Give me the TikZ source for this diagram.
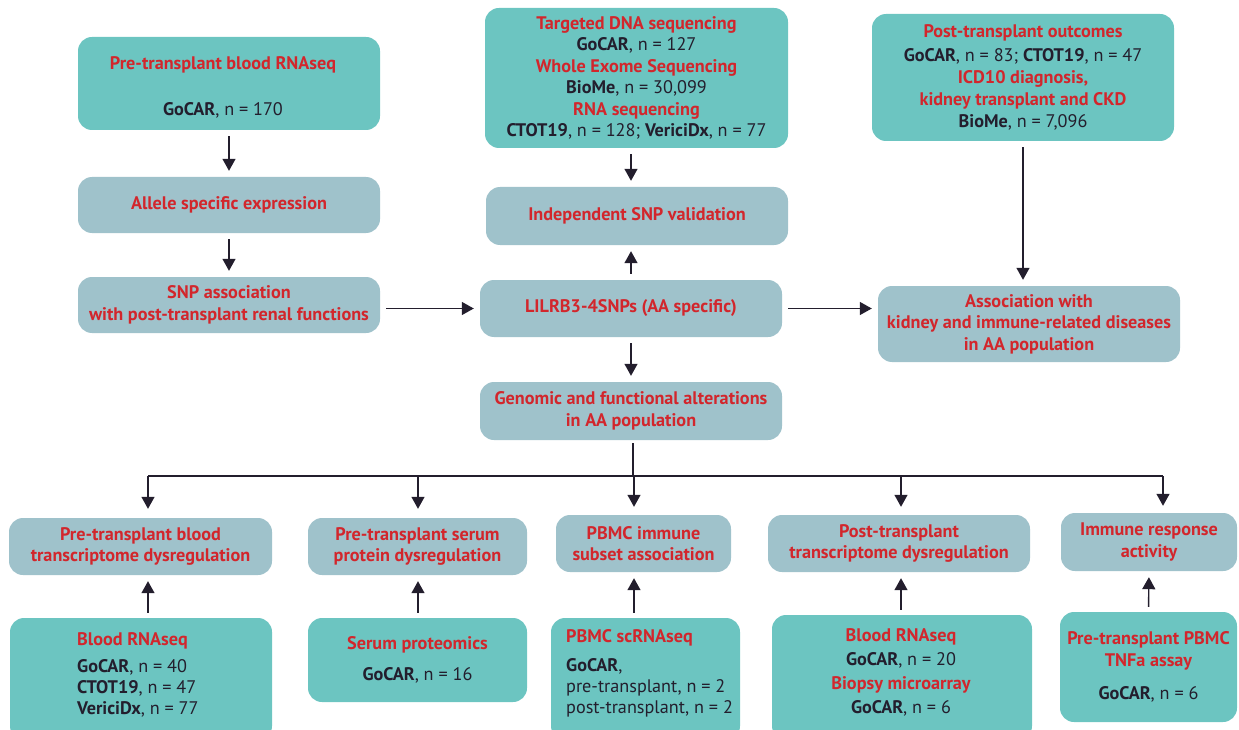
\documentclass[tikz,border=0pt]{standalone}
\usepackage{fontspec}
\setmainfont{PT Sans}
\usetikzlibrary{arrows.meta,calc}
\definecolor{tealbg}{RGB}{108,197,193}
\definecolor{greybg}{RGB}{159,194,203}
\definecolor{redt}{RGB}{210,38,44}
\definecolor{darkt}{RGB}{35,30,45}
\newcommand{\rt}[1]{\textcolor{redt}{\bfseries #1}}
\newcommand{\dk}[1]{\textbf{#1}}
\begin{document}
\begin{tikzpicture}[x=1pt,y=-1pt,
  boxbase/.style={rounded corners=14pt, inner sep=0pt, align=center, text=darkt,
    font=\fontsize{18.2}{21.5}\selectfont},
  tealbox/.style={boxbase, fill=tealbg},
  greybox/.style={boxbase, fill=greybg},
  txt/.style={inner sep=0pt, align=left, text=darkt, font=\fontsize{18.2}{21}\selectfont},
  ctxt/.style={txt, align=center, font=\fontsize{18.2}{21.5}\selectfont},
  conn/.style={draw=darkt, line width=1.4pt, -{Triangle[width=13pt,length=12pt]},
    shorten <=6pt, shorten >=6pt},
  plainline/.style={draw=darkt, line width=1.4pt}]
\useasboundingbox (0,0) rectangle (1239,730);

% ---- left column
\node[tealbox, minimum width=302pt, minimum height=93pt] (rnaseq) at (229,83.5) {};
\node[ctxt] (rnaseqt) at (223,87.5)
  {\rt{Pre-transplant blood RNAseq}\\[24pt]\dk{GoCAR}, n = 170};
\node[greybox, minimum width=302pt, minimum height=56pt] (ase) at (229,205)
  {\rt{Allele specific expression}};
\node[greybox, minimum width=302pt, minimum height=56pt] (snpa) at (229,305)
  {\rt{SNP association}\\\rt{with post-transplant renal functions}};

% ---- centre column
\node[tealbox, minimum width=303pt, minimum height=140pt] (seq) at (636.5,78)
  {\rt{Targeted DNA sequencing}\\\dk{GoCAR}, n = 127\\\rt{Whole Exome Sequencing}\\
   \dk{BioMe}, n = 30,099\\\rt{RNA sequencing}\\\dk{CTOT19}, n = 128; \dk{VericiDx}, n = 77};
\node[greybox, minimum width=302pt, minimum height=58pt] (valid) at (637,216)
  {\rt{Independent SNP validation}};
\node[greybox, minimum width=302pt, minimum height=57pt] (lilrb) at (631,308.5)
  {\rt{LILRB3-4SNPs (AA specific)}};
\node[greybox, minimum width=302pt, minimum height=58pt] (genomic) at (631,411)
  {\rt{Genomic and functional alterations}\\\rt{in AA population}};

% ---- right column
\node[tealbox, minimum width=302pt, minimum height=127pt] (outc) at (1023,77.5)
  {\rt{Post-transplant outcomes}\\[2pt]\dk{GoCAR}, n = 83; \dk{CTOT19}, n = 47\\[1pt]
   \rt{ICD10 diagnosis,}\\\rt{kidney transplant and CKD}\\[1pt]\dk{BioMe}, n = 7,096};
\node[greybox, minimum width=302pt, minimum height=76pt] (assoc) at (1029,324)
  {\rt{Association with}\\\rt{kidney and immune-related diseases}\\\rt{in AA population}};

% ---- bottom row, grey
\node[greybox, minimum width=263pt, minimum height=57pt] (ga) at (140.5,546.5)
  {\rt{Pre-transplant blood}\\\rt{transcriptome dysregulation}};
\node[greybox, minimum width=219pt, minimum height=57pt] (gb) at (417.5,546.5)
  {\rt{Pre-transplant serum}\\\rt{protein dysregulation}};
\node[greybox, minimum width=175pt, minimum height=57pt] (gc) at (643.5,543.5)
  {\rt{PBMC immune}\\\rt{subset association}};
\node[greybox, minimum width=262pt, minimum height=57pt] (gd) at (899,543.5)
  {\rt{Post-transplant}\\\rt{transcriptome dysregulation}};
\node[greybox, minimum width=176pt, minimum height=58pt] (ge) at (1149,542)
  {\rt{Immune response}\\\rt{activity}};

% ---- bottom row, teal
\node[tealbox, minimum width=262pt, minimum height=122pt] (ta) at (141,679) {};
\node[txt, anchor=west] (tat) at (77,675)
  {\rt{Blood RNAseq}\\[6pt]\dk{GoCAR}, n = 40\\\dk{CTOT19}, n = 47\\\dk{VericiDx}, n = 77};
\node[tealbox, minimum width=219pt, minimum height=84pt] (tb) at (417.5,660)
  {\rt{Serum proteomics}\\[10pt]\dk{GoCAR}, n = 16};
\node[tealbox, minimum width=189pt, minimum height=122pt] (tc) at (645.5,679) {};
\node[txt, anchor=west] (tct) at (566,673)
  {\rt{PBMC scRNAseq}\\[8pt]\dk{GoCAR},\\pre-transplant, n = 2\\post-transplant, n = 2};
\node[tealbox, minimum width=260pt, minimum height=125pt] (td) at (902,677.5) {};
\node[ctxt] (tdt) at (901,672)
  {\rt{Blood RNAseq}\\[2.5pt]\dk{GoCAR}, n = 20\\[2.5pt]\rt{Biopsy microarray}\\[2.5pt]\dk{GoCAR}, n = 6};
\node[tealbox, minimum width=177pt, minimum height=110pt] (te) at (1148.5,667)
  {\rt{Pre-transplant PBMC}\\\rt{TNFa assay}\\[12pt]\dk{GoCAR}, n = 6};

% ---- connectors, upper part
\draw[conn] (rnaseq) -- (ase);
\draw[conn] (ase) -- (snpa);
\draw[conn] (lilrb.north |- seq.south) -- (lilrb.north |- valid.north);
\draw[conn] (lilrb.north) -- (lilrb.north |- valid.south);
\draw[conn] (lilrb.west -| snpa.east) -- (lilrb.west);
\draw[conn] (lilrb.east) -- (lilrb.east -| assoc.west);
\draw[conn] (outc.south) -- (outc.south |- assoc.north);
\draw[conn] (lilrb.south) -- (genomic.north);

% ---- bus to bottom row
\coordinate (bus) at (633,476);
\coordinate (ba) at (148,476);
\coordinate (bb) at (418,476);
\coordinate (bc) at (634,476);
\coordinate (bd) at (901,476);
\coordinate (be) at (1163,476);
\draw[plainline, shorten <=3pt] (genomic.south -| bus) -- (bus);
\draw[plainline] (ba) -- (be);
\draw[conn, shorten <=0pt, shorten >=9pt] (ba) -- (ba |- ga.north);
\draw[conn, shorten <=0pt, shorten >=9pt] (bb) -- (bb |- gb.north);
\draw[conn, shorten <=0pt, shorten >=8pt] (bc) -- (bc |- gc.north);
\draw[conn, shorten <=0pt, shorten >=8pt] (bd) -- (bd |- gd.north);
\draw[conn, shorten <=0pt, shorten >=7pt] (be) -- (be |- ge.north);

% ---- bottom up arrows
\draw[conn, shorten <=5pt] (ba |- ta.north) -- (ba |- ga.south);
\draw[conn, shorten <=5pt] (bb |- tb.north) -- (bb |- gb.south);
\draw[conn, shorten <=5pt] (bc |- tc.north) -- (bc |- gc.south);
\draw[conn, shorten <=5pt] (bd |- td.north) -- (bd |- gd.south);
\draw[conn, shorten <=5pt] (te.north) -- (ge.south);
\end{tikzpicture}
\end{document}
